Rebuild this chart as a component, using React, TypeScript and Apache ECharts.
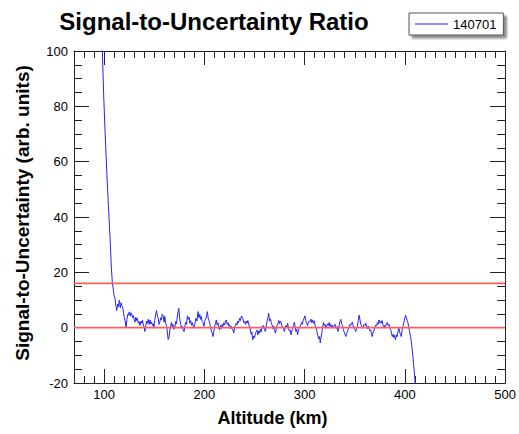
import React, { useEffect, useRef } from "react";
import * as echarts from "echarts";

// Altitude (km) / signal-to-uncertainty pairs
const dropoff: [number, number][] = [
  [97.5, 112], [98.3, 100], [99.5, 85], [101, 70.6], [102.7, 56.2], [104.3, 44.2], [106, 32.1],
  [107.2, 22], [108.3, 15.9], [109.2, 14], [110, 11.5], [110.9, 10.5], [111.8, 8], [112.6, 6.2],
  [113.5, 8.5], [114.3, 7.5], [115.2, 9.9], [116.2, 7.2], [117, 9], [117.6, 8], [118.4, 7.6],
  [119.2, 6], [120, 4], [121, 2.5], [121.9, 0],
];

const noise1: [number, number][] = [
  [122.8, 3], [123.6, 4.8], [124.3, 4.5], [125.1, 5.7], [126, 4.2], [126.8, 5.4], [127.5, 5],
  [128.4, 3.6], [129.2, 4.4], [130, 3], [130.8, 2], [131.7, 3.8], [132.4, 2.6], [133.1, 3.4],
  [134, 1.6], [135, 2.2], [135.8, 0.8], [136.7, 2.4], [137.6, 1.6], [138.4, 2.7], [139.2, 0.9],
  [140, 0.2], [140.7, -1.4], [141.6, 0.6], [142.4, 2.4], [143.2, 1.5], [144, 3], [145, 1.2],
  [145.8, 2.8], [146.6, 1.4], [147.4, 2], [148.2, 0.8], [149, 1.4], [149.7, -0.2], [150.5, 2.6],
  [151.4, 4.6], [152.3, 6.2], [153.2, 4.2], [154, 3.4], [154.8, 1.2], [155.6, 2], [156.4, 3.6],
  [157.2, 2.8], [158, 4.9], [158.9, 4.3], [159.8, 2], [160.6, 4.1], [161.5, 1.4], [162.3, 0.8],
  [163.1, -1.6], [163.9, -4.3], [164.9, -3.4], [165.6, -0.8], [166.4, 0.6], [167.2, 1.9],
  [168, 0.4], [168.8, 1.2], [169.6, -0.6], [170.5, -0.2], [171.4, 2.2], [172.3, 1.4],
  [173.2, 4.6], [174.5, 7], [175.4, 3.2], [176.3, 1.6], [177.2, -0.2], [178, 0.6], [178.9, -0.8],
  [179.8, -1.4], [180.7, 0.8], [181.5, 2], [182.3, 1.2], [183.1, 4.3], [184, 3], [184.8, 3.8],
  [185.6, 1.6], [186.4, 2.5], [187.2, 0.9], [188, 1.8], [188.9, 0.4], [189.7, -0.2], [190.6, 1.6],
  [191.5, 3.4], [192.6, 2.4], [193.7, 5.8], [194.6, 3.6], [195.4, 4.8], [196.2, 3], [197, 4.1],
  [197.8, 2.2], [198.7, 1.8], [199.6, 0.5],
];

const noise2: [number, number][] = [
  [200.5, 2.6], [201.4, 3.2], [202.2, 4.4], [203, 5.8], [203.8, 3.4], [204.6, 2.6], [205.3, 1.6],
  [206.1, 0.4], [206.9, -1.2], [207.8, -1.8], [208.6, -3.2], [209.5, -1.4], [210.3, 0.6],
  [211.1, 1.4], [211.9, 2.8], [212.7, 1], [213.5, 1.8], [214.4, 0.2], [215.2, -0.8], [216, 0.8],
  [216.9, -0.4], [217.7, 1.2], [218.5, 0.4], [219.4, 1.8], [220.2, 1], [221.1, 2.4], [221.9, 2.8],
  [222.8, 1.2], [223.6, 1.8], [224.4, 0.6], [225.2, 1.1], [226, -0.3], [226.8, 0.6], [227.6, -0.4],
  [228.4, -0.8], [229.4, -1.9], [230.2, 0.2], [231, 0.8], [231.8, 1.6], [232.6, 1], [233.4, 2.4],
  [234.2, 1.8], [235.1, 3.4], [236, 2.6], [236.9, 4.2], [237.8, 3.8], [238.6, 3], [239.4, 1.8],
  [240.1, 2.2], [241, 1.2], [241.8, 2.4], [242.6, 1.6], [243.4, 2.6], [244.2, 1.4], [245, 0.2],
  [245.7, -0.2], [246.6, -2.4], [247.4, -1.6], [248.3, -4.4], [249.2, -3], [250.1, -3.6],
  [250.9, -2.2], [251.7, -1.4], [252.6, -0.8], [253.4, -2.6], [254.2, -1.2], [255, -2],
  [255.8, -0.6], [256.6, -1.6], [257.4, 0.4], [258.2, -0.2], [259, 0.8], [259.9, -0.6],
  [260.9, -1.4], [261.7, 0.6], [262.5, 2.2], [263.4, 3.6], [264.2, 5.2], [265, 2.4], [265.9, 3.2],
  [266.8, 1.6], [267.6, 0.9], [268.4, -0.4], [269.2, 0.6], [270, -0.8], [270.9, -2], [271.7, -0.6],
  [272.5, 0.8], [273.4, 1.4], [274.2, 2.6], [275, 1.4], [275.7, 2.4], [276.5, 2], [277.3, 0.6],
  [278.1, 0.2], [279, -0.6], [279.8, -1.4], [280.6, 0.2], [281.4, 0.8], [282.3, 0.2], [283.1, 1.6],
  [284, -0.4], [284.8, -1.2], [285.6, -0.8], [286.4, -2.6], [287.2, -1.2], [288, -0.6],
  [288.9, 0.8], [289.7, 1.9], [290.5, 0.6], [291.3, -1.4], [292.1, -0.6], [293, -2.6],
  [293.9, -0.8], [294.7, -0.2], [295.6, 0.6], [296.3, 1.2], [297, 1.9], [297.8, 1.2], [298.6, 2.6],
  [299.5, 3.4],
];

const noise3: [number, number][] = [
  [300.3, 4.3], [301.1, 2.6], [302, 1.6], [302.9, 0.8], [303.7, 1.8], [304.5, 2.4], [305.4, 2.2],
  [306.3, 3.1], [307.1, 1.8], [307.9, 2.8], [308.8, 1.6], [309.6, 2.5], [310.4, 0.8], [311.3, 0.2],
  [312.3, -1.4], [313.1, -2.8], [313.9, -4], [314.8, -3.2], [315.6, -5.5], [316.4, -3.4],
  [317.2, -1.8], [318, 0.2], [318.8, 1.9], [319.6, 0.8], [320.4, 1.2], [321.2, -0.2], [322, 0.6],
  [322.9, 1.4], [323.7, 0.8], [324.5, 1.9], [325.3, 0.4], [326.1, 1.2], [327, 0.2], [327.8, 0.8],
  [328.6, -0.2], [329.4, 0.6], [330.3, 1.2], [331.1, 0.3], [331.9, -0.4], [332.7, 0.4],
  [333.4, -1.4], [334.3, 0.6], [335.2, 2.2], [336.1, 3], [336.9, 1.4], [337.8, 0.8], [338.7, -0.8],
  [339.5, -1.6], [340.3, -2.4], [341.1, -3.2], [341.9, -2], [342.8, -1.4], [343.6, -0.4],
  [344.4, 0.3], [345.2, 1.2], [346, 0.8], [346.8, 1.6], [347.6, 2], [348.5, 0.6], [349.3, -0.2],
  [350.1, -0.6], [351, -1.4], [351.8, -0.2], [352.6, 0.3], [353.5, 2.6], [354.4, 4.5], [355.2, 2.8],
  [356, 1.2], [356.8, 0.6], [357.6, -0.2], [358.5, 0.4], [359.3, 1.2], [360.2, 0.8], [361, 1.6],
  [361.8, 0.4], [362.6, -0.4], [363.4, 0.6], [364.2, -0.2], [365, -1.2], [365.9, -0.8],
  [366.7, -2.2], [367.5, -3.2], [368.3, -1.6], [369.1, -1.2], [370, 0.2], [370.9, 1], [371.7, 0.6],
  [372.5, 1.8], [373.3, 1.2], [374.2, 2.8], [375, 1.8], [375.7, 2.2], [376.4, 1.6], [377.2, 2.6],
  [378, 1.2], [378.6, 0.4], [379.1, -0.2], [379.9, 0.8], [380.7, 0.4], [381.6, 1.4], [382.4, 1.9],
  [383.3, 0.8], [384.2, 1.2], [385.1, -0.2], [385.9, -0.8], [386.7, -2.2], [387.4, -3.2],
  [388.2, -2.4], [389, -3.6], [389.9, -2.8], [390.7, -4.4], [391.5, -2.6], [392.3, -3.2],
  [393.2, -1.4], [394, -0.2], [394.8, -1.6], [395.5, -2.4], [396.3, -3.2], [397.1, -1.2],
  [398, 0.4], [399, 1.9],
];

const tail: [number, number][] = [
  [399.8, 3.2], [400.7, 4.5], [401.5, 3.6], [402.3, 2.6], [403, 1.9], [403.8, 0.4], [404.7, -1.4],
  [405.6, -3.2], [406.4, -5], [407.2, -7.4], [407.9, -10], [408.6, -12.8], [409.3, -15.6],
  [409.9, -18.4], [410.5, -21], [411.2, -24],
];

const seriesName = "140701";
const thresholdLines = [0, 16];
const xMajorTicks = [100, 200, 300, 400, 500];
const xMinorTicks = [80, 90, 110, 120, 130, 140, 150, 160, 170, 180, 190, 210, 220, 230, 240, 250, 260, 270, 280, 290, 310, 320, 330, 340, 350, 360, 370, 380, 390, 410, 420, 430, 440, 450, 460, 470, 480, 490];
const X_MIN = 70;
const X_MAX = 500;

const FONT = "'Liberation Sans', Arial, Helvetica, sans-serif";
const AXIS_COLOR = "#222";
const BLUE = "#2424ff";
const RED = "#ff5c5c";

export default function App() {
  const ref = useRef<HTMLDivElement>(null);

  useEffect(() => {
    if (!ref.current) return;
    const chart = echarts.init(ref.current, null, { renderer: "svg" });
    const data = [...dropoff, ...noise1, ...noise2, ...noise3, ...tail];

    const xBase = {
      type: "value" as const,
      min: X_MIN,
      max: X_MAX,
      splitLine: { show: false },
    };
    const yBase = {
      type: "value" as const,
      min: -20,
      max: 100,
      interval: 20,
      splitLine: { show: false },
    };

    const thresholdSeries = thresholdLines.map((v, i) => ({
      name: "threshold-" + i,
      type: "line" as const,
      xAxisIndex: 0,
      yAxisIndex: 0,
      data: [
        [X_MIN, v],
        [X_MAX, v],
      ],
      symbol: "none",
      showSymbol: false,
      silent: true,
      emphasis: { disabled: true },
      lineStyle: { color: RED, width: 1.6, opacity: 1, shadowBlur: 0, shadowColor: "transparent" },
      itemStyle: { color: RED },
      z: 4,
    }));

    chart.setOption({
      animation: false,
      backgroundColor: "#fff",
      textStyle: { fontFamily: FONT },
      title: {
        text: "Signal-to-Uncertainty Ratio",
        left: 209,
        textAlign: "center",
        top: 4,
        textStyle: { fontFamily: FONT, fontSize: 24, fontWeight: "bold", color: "#000" },
      },
      legend: {
        left: 409,
        top: 13,
        padding: [4, 7, 4, 6],
        itemWidth: 33,
        itemHeight: 1,
        icon: "rect",
        backgroundColor: "#fff",
        borderColor: "#555",
        borderWidth: 1,
        shadowColor: "rgba(0,0,0,0.45)",
        shadowBlur: 2,
        shadowOffsetX: 3,
        shadowOffsetY: 3,
        textStyle: { fontFamily: FONT, fontSize: 13, color: "#000", lineHeight: 14 },
        data: [{ name: seriesName, icon: "rect" }],
      },
      grid: { left: 74, right: 12, top: 51, bottom: 51, containLabel: false },
      xAxis: [
        {
          ...xBase,
          position: "bottom",
          name: "Altitude (km)",
          nameLocation: "middle",
          nameGap: 26,
          nameTextStyle: {
            fontFamily: FONT,
            fontSize: 18,
            fontWeight: "bold",
            color: "#000",
            padding: [0, 34, 0, 0],
          },
          axisLine: { show: true, onZero: false, lineStyle: { color: AXIS_COLOR, width: 1 } },
          axisTick: { show: true, inside: true, length: 14, customValues: xMajorTicks, lineStyle: { color: AXIS_COLOR } },
          axisLabel: { show: true, customValues: xMajorTicks, fontFamily: FONT, fontSize: 13, color: "#000", margin: 5 },
        },
        {
          ...xBase,
          position: "bottom",
          axisLine: { show: false, onZero: false },
          axisTick: { show: true, inside: true, length: 7, customValues: xMinorTicks, lineStyle: { color: AXIS_COLOR } },
          axisLabel: { show: false },
        },
        {
          ...xBase,
          position: "top",
          axisLine: { show: true, onZero: false, lineStyle: { color: AXIS_COLOR, width: 1 } },
          axisTick: { show: true, inside: true, length: 14, customValues: xMajorTicks, lineStyle: { color: AXIS_COLOR } },
          axisLabel: { show: false },
        },
        {
          ...xBase,
          position: "top",
          axisLine: { show: false, onZero: false },
          axisTick: { show: true, inside: true, length: 7, customValues: xMinorTicks, lineStyle: { color: AXIS_COLOR } },
          axisLabel: { show: false },
        },
      ],
      yAxis: [
        {
          ...yBase,
          position: "left",
          name: "Signal-to-Uncertainty (arb. units)",
          nameLocation: "middle",
          nameGap: 42,
          nameTruncate: { maxWidth: 600, ellipsis: "" },
          nameTextStyle: {
            fontFamily: FONT,
            fontSize: 19,
            fontWeight: "bold",
            color: "#000",
            padding: [0, 0, 0, 8],
            width: 340,
            overflow: "none",
            align: "center",
          },
          axisLine: { show: true, onZero: false, lineStyle: { color: AXIS_COLOR, width: 1 } },
          axisTick: { show: true, inside: true, length: 15, lineStyle: { color: AXIS_COLOR } },
          minorTick: { show: true, splitNumber: 4, length: 8, lineStyle: { color: AXIS_COLOR } },
          axisLabel: { show: true, fontFamily: FONT, fontSize: 13, color: "#000", margin: 6 },
        },
        {
          ...yBase,
          position: "right",
          axisLine: { show: true, onZero: false, lineStyle: { color: AXIS_COLOR, width: 1 } },
          axisTick: { show: true, inside: true, length: 15, lineStyle: { color: AXIS_COLOR } },
          minorTick: { show: true, splitNumber: 4, length: 8, lineStyle: { color: AXIS_COLOR } },
          axisLabel: { show: false },
        },
      ],
      series: [
        {
          name: seriesName,
          type: "line",
          xAxisIndex: 0,
          yAxisIndex: 0,
          data,
          showSymbol: false,
          symbol: "none",
          clip: true,
          lineStyle: { color: BLUE, width: 1 },
          itemStyle: { color: BLUE },
          z: 3,
        },
        ...thresholdSeries,
      ],
    });

    return () => chart.dispose();
  }, []);

  return (
    <div
      ref={ref}
      style={{ position: "fixed", left: 0, top: 0, width: 519, height: 434, background: "#fff" }}
    />
  );
}
